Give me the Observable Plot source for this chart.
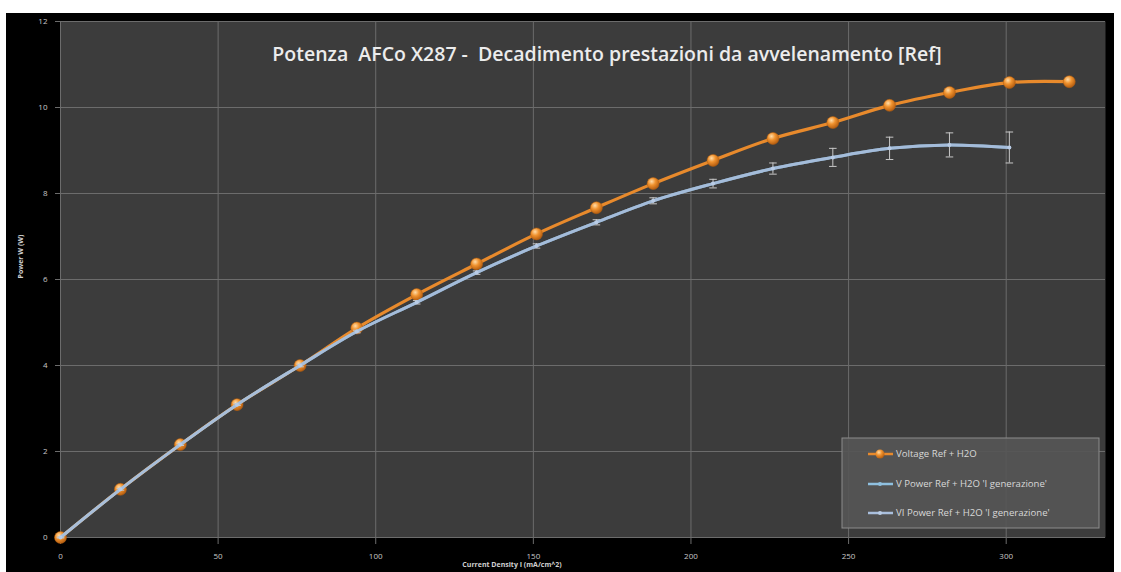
<!DOCTYPE html>
<html><head><meta charset="utf-8">
<script src="https://cdn.jsdelivr.net/npm/d3@7"></script>
<script src="https://cdn.jsdelivr.net/npm/@observablehq/plot@0.6"></script>
<style>body{margin:0;background:#fff;} #chart{width:1121px;height:572px;position:relative;}</style>
</head><body><div id="chart"></div>
<script>
// ---- data ----
const titleText = "Potenza  AFCo X287 -  Decadimento prestazioni da avvelenamento [Ref]";
const xLabel = "Current Density I (mA/cm^2)";
const yLabel = "Power W (W)";
const seriesNames = ["Voltage Ref + H2O", "V Power Ref + H2O 'I generazione'", "VI Power Ref + H2O 'I generazione'"];
const xTicks = [0, 50, 100, 150, 200, 250, 300];
const yTicks = [0, 2, 4, 6, 8, 10, 12];
const currentDensity = [0, 19, 38, 56, 76, 94, 113, 132, 151, 170, 188, 207, 226, 245, 263, 282, 301, 320];
const voltageRef = [0, 1.12, 2.16, 3.09, 4.0, 4.87, 5.65, 6.36, 7.06, 7.67, 8.23, 8.77, 9.28, 9.65, 10.05, 10.35, 10.58, 10.6];
const vPower  = [0, 1.12, 2.16, 3.09, 4.0, 4.79, 5.47, 6.16, 6.78, 7.33, 7.83, 8.23, 8.58, 8.84, 9.05, 9.13, 9.07];
const viPower = [0, 1.12, 2.16, 3.09, 4.0, 4.79, 5.47, 6.16, 6.78, 7.33, 7.83, 8.23, 8.58, 8.84, 9.05, 9.13, 9.07];
const viError = [0.01, 0.02, 0.02, 0.02, 0.03, 0.03, 0.04, 0.04, 0.05, 0.06, 0.07, 0.10, 0.13, 0.21, 0.26, 0.28, 0.36];

const orange = currentDensity.map((x, i) => ({x, y: voltageRef[i]}));
const vData = vPower.map((y, i) => ({x: currentDensity[i], y}));
const viData = viPower.map((y, i) => ({x: currentDensity[i], y, e: viError[i]}));

const defsMark = () => {
  const g = document.createElementNS("http://www.w3.org/2000/svg", "g");
  g.innerHTML = `<defs><radialGradient id="og" cx="38%" cy="32%" r="70%">
    <stop offset="0%" stop-color="#ffdca8"/><stop offset="45%" stop-color="#f0922e"/><stop offset="100%" stop-color="#b35c10"/>
  </radialGradient></defs>`;
  return g;
};

const gridColor = "#6c6c6c";
const plot = Plot.plot({
  width: 1121, height: 572,
  marginLeft: 60, marginRight: 16, marginTop: 21, marginBottom: 35,
  x: {domain: [0, 331.5]},
  y: {domain: [0, 12]},
  style: {background: "transparent", fontFamily: "'Open Sans', sans-serif", overflow: "visible"},
  marks: [
    defsMark,
    Plot.frame({fill: "#3c3c3c"}),
    Plot.gridY(yTicks, {stroke: gridColor, strokeOpacity: 1}),
    Plot.gridX(xTicks, {stroke: gridColor, strokeOpacity: 1}),
    Plot.axisY(yTicks, {tickSize: 5, stroke: gridColor, fill: "#c8c8c8", fontSize: 8, tickPadding: 8, label: null, tickFormat: d => d}),
    Plot.axisX(xTicks, {tickSize: 7, stroke: gridColor, fill: "#c8c8c8", fontSize: 8, tickPadding: 9, label: null, tickFormat: d => d}),
    Plot.line(orange, {x: "x", y: "y", stroke: "#e88a2c", strokeWidth: 3.2, curve: "catmull-rom"}),
    Plot.dot(orange, {x: "x", y: "y", r: 6, fill: "url(#og)", stroke: "#b9600f", strokeWidth: 0.5}),
    Plot.ruleX(viData, {x: "x", y1: d => d.y - d.e, y2: d => d.y + d.e, stroke: "#c8c8c8", strokeWidth: 1}),
    Plot.link(viData, {x1: d => d.x - 1.2, x2: d => d.x + 1.2, y1: d => d.y + d.e, y2: d => d.y + d.e, stroke: "#c8c8c8", strokeWidth: 1}),
    Plot.link(viData, {x1: d => d.x - 1.2, x2: d => d.x + 1.2, y1: d => d.y - d.e, y2: d => d.y - d.e, stroke: "#c8c8c8", strokeWidth: 1}),
    Plot.line(vData, {x: "x", y: "y", stroke: "#8fc0e0", strokeWidth: 3, curve: "catmull-rom", strokeOpacity: 0.8}),
    Plot.line(viData, {x: "x", y: "y", stroke: "#a9bfdd", strokeWidth: 3, curve: "catmull-rom", strokeOpacity: 0.9}),
    Plot.dot(viData, {x: "x", y: "y", r: 2, fill: "#b9cce6"}),
    Plot.text([titleText], {frameAnchor: "top", dx: 24, dy: 26, fill: "#ececec", fontSize: 19.5, fontWeight: 600, fontFamily: "'Open Sans', sans-serif"}),
    Plot.text([xLabel], {frameAnchor: "bottom", dx: -71, dy: 29, fill: "#d0d0d0", fontSize: 7, fontWeight: 700}),
    Plot.text([yLabel], {frameAnchor: "left", dx: -40, dy: -1, rotate: -90, fill: "#d0d0d0", fontSize: 7, fontWeight: 700})
  ]
});

const svg = d3.select(plot);
svg.insert("rect", ":first-child").attr("x", 6).attr("y", 13).attr("width", 1108).attr("height", 559).attr("fill", "#000");

// legend
const lg = svg.append("g").attr("font-family", "'Open Sans', sans-serif").attr("font-size", 9.6).attr("fill", "#d8d8d8").attr("text-anchor", "start");
lg.append("rect").attr("x", 842).attr("y", 438).attr("width", 257).attr("height", 90)
  .attr("fill", "#565656").attr("fill-opacity", 0.92).attr("stroke", "#8c8c8c").attr("stroke-width", 1);
const rows = [
  {name: seriesNames[0], y: 454, stroke: "#e88a2c", dot: "url(#og)", r: 4.5},
  {name: seriesNames[1], y: 484, stroke: "#8fc0e0", dot: "#8fc0e0", r: 2},
  {name: seriesNames[2], y: 513, stroke: "#a9bfdd", dot: "#b9cce6", r: 2}
];
rows.forEach(r => {
  lg.append("line").attr("x1", 868).attr("x2", 893).attr("y1", r.y).attr("y2", r.y).attr("stroke", r.stroke).attr("stroke-width", 2.5);
  lg.append("circle").attr("cx", 880).attr("cy", r.y).attr("r", r.r).attr("fill", r.dot);
  lg.append("text").attr("x", 896).attr("y", r.y).attr("dy", "0.35em").attr("text-anchor", "start").text(r.name);
});

document.getElementById("chart").append(plot);
</script>
</body></html>
